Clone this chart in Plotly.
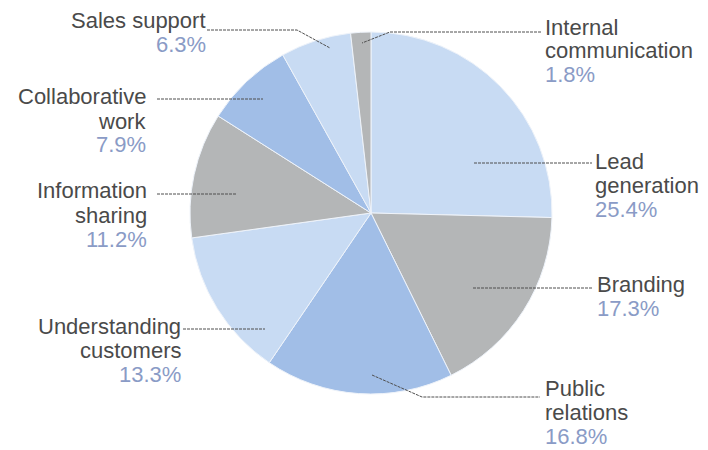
import plotly.graph_objects as go

W, H = 708, 450

# ---- data ----
categories = ["Lead generation", "Branding", "Public relations", "Understanding customers",
              "Information sharing", "Collaborative work", "Sales support", "Internal communication"]
shares = [25.4, 17.3, 16.8, 13.3, 11.2, 7.9, 6.3, 1.8]
label_lines = [["Lead", "generation"], ["Branding"], ["Public", "relations"],
               ["Understanding", "customers"], ["Information", "sharing"],
               ["Collaborative", "work"], ["Sales support"], ["Internal", "communication"]]

# ---- style / layout ----
LIGHT, GRAY, MID = "#c8dbf3", "#b4b6b7", "#a1bee7"
slice_colors = [LIGHT, GRAY, MID, LIGHT, GRAY, MID, LIGHT, GRAY]
NAME_COLOR = "#4a4a4a"
PCT_COLOR = "#8a9bc6"
FONT = "Liberation Sans, Arial, sans-serif"
FS = 22
LINE_H = 24

# label anchor: (x px, first line center y px, side)
label_pos = [(594, 161, "left"), (596, 284, "left"), (544, 388, "left"),
             (182, 326, "right"), (148, 191, "right"), (147, 97, "right"),
             (207, 21, "right"), (544, 27, "left")]
leaders = [[(474, 163), (592, 163)],
           [(473, 288), (592, 288)],
           [(372, 375), (422, 397), (540, 397)],
           [(183, 329), (265, 329)],
           [(157, 194), (237, 194)],
           [(157, 99), (263, 99)],
           [(207, 30), (297, 30), (330, 48)],
           [(541, 32), (390, 32), (362, 43)]]

def px(x):
    return x / W

def py(y):
    return 1 - y / H

fig = go.Figure(go.Pie(
    labels=categories, values=shares, sort=False, direction="clockwise", rotation=0,
    marker=dict(colors=slice_colors, line=dict(color="#eef3fa", width=1)),
    textinfo="none", hoverinfo="label+percent",
    domain=dict(x=[190 / W, 552 / W], y=[py(394), py(32)]),
))

annotations = []
for lines, val, (x, y0, side) in zip(label_lines, shares, label_pos):
    anchor = "left" if side == "left" else "right"
    rows = [(t, NAME_COLOR) for t in lines] + [(f"{val:.1f}%", PCT_COLOR)]
    for i, (t, c) in enumerate(rows):
        annotations.append(dict(
            x=px(x), y=py(y0 + i * LINE_H), xref="paper", yref="paper",
            text=t, showarrow=False, xanchor=anchor, yanchor="middle",
            align=anchor, borderpad=0, font=dict(family=FONT, size=FS, color=c),
        ))

shapes = []
for pts in leaders:
    path = "M " + " L ".join(f"{px(a)},{py(b)}" for a, b in pts)
    shapes.append(dict(type="path", path=path, xref="paper", yref="paper",
                       line=dict(color="#4f4f4f", width=1, dash="3px,1px")))

fig.update_layout(
    width=W, height=H, margin=dict(l=0, r=0, t=0, b=0),
    paper_bgcolor="white", plot_bgcolor="white", showlegend=False,
    annotations=annotations, shapes=shapes,
)

fig.write_html("out.html")
